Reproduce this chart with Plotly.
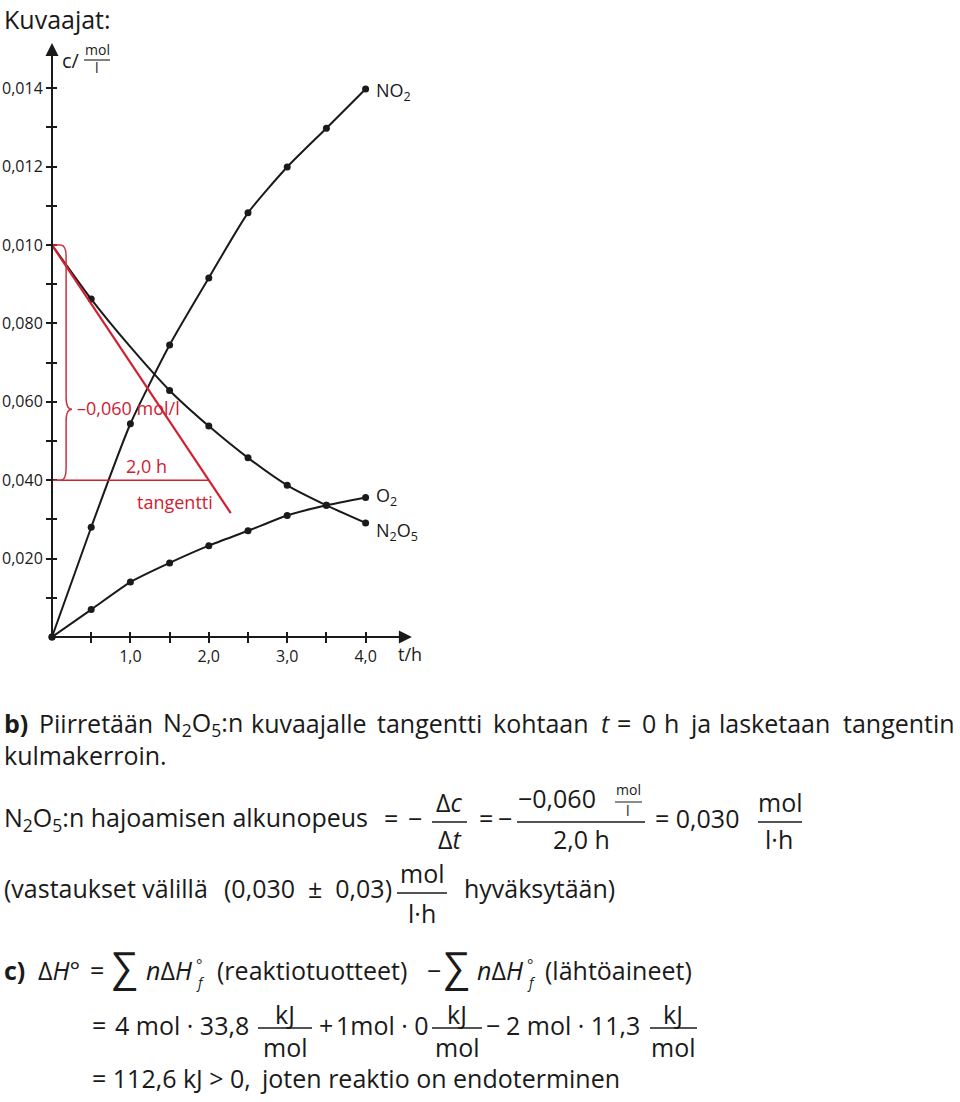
import plotly.graph_objects as go

# ---------------- data ----------------
T_H = [0.0, 0.5, 1.0, 1.5, 2.0, 2.5, 3.0, 3.5, 4.0]
C_NO2 = [0.0, 0.00280, 0.00544, 0.00745, 0.00916, 0.01082, 0.01199, 0.01298, 0.01398]
C_N2O5 = [0.0100, 0.00862, 0.00740, 0.00629, 0.00538, 0.00457, 0.00387, 0.00336, 0.00291]
C_O2 = [0.0, 0.00070, 0.00140, 0.00189, 0.00233, 0.00271, 0.00310, 0.00336, 0.00356]
N2O5_MEASURED = [False, True, False, True, True, True, True, True, True]

TANGENT_T = [0.0, 2.28]
TANGENT_C = [0.0100, 0.00316]
DELTA_T = [0.0, 2.0]
DELTA_LEVEL = [0.0040, 0.0040]
BRACE_TOP = 0.0100
BRACE_BOTTOM = 0.0040
BRACE_TIP = 0.00581

X_TICK_VALS = [0.5, 1.0, 1.5, 2.0, 2.5, 3.0, 3.5, 4.0]
X_TICK_TEXT = ["", "1,0", "", "2,0", "", "3,0", "", "4,0"]
Y_TICK_VALS = [0.001, 0.002, 0.003, 0.004, 0.005, 0.006, 0.007,
               0.008, 0.009, 0.010, 0.011, 0.012, 0.013, 0.014]
Y_TICK_TEXT = ["", "0,020", "", "0,040", "", "0,060", "", "0,080",
               "", "0,010", "", "0,012", "", "0,014"]
X_ARROW_END = 4.59
Y_ARROW_END = 0.01515

# ---------------- layout geometry ----------------
W, H = 960, 1102
ML, MT, MB = 52, 30, 465
PW = 392
MR = W - ML - PW
PH = H - MT - MB
PX_PER_HOUR = 78.4
PX_PER_002 = 78.4
X_MAX = PW / PX_PER_HOUR
Y_MAX = PH / PX_PER_002 * 0.002

FONT = "Open Sans, DejaVu Sans, sans-serif"
RED = "#cf2130"
BRACE_RED = "#c9343f"
INK = "#1a1a1a"
FS = 25  # body text size
NB = "\u00a0"


def pxx(x):
    return (x - ML) / PW


def pxy(y):
    return (H - MB - y) / PH


annotations = []
shapes = []


def txtc(xp, yc, s, size=FS, anchor="left", color=INK, family=FONT, yanchor="middle"):
    annotations.append(dict(
        xref="paper", yref="paper", x=pxx(xp), y=pxy(yc),
        xanchor=anchor, yanchor=yanchor, text=s, showarrow=False,
        borderpad=0, font=dict(family=family, size=size, color=color)))


def txt(xp, base, s, size=FS, anchor="left", color=INK, family=FONT):
    txtc(xp, base - 0.388 * size, s, size, anchor, color, family)


def bar(x0, x1, y, w=1.4, color=INK):
    shapes.append(dict(type="line", xref="paper", yref="paper",
                       x0=pxx(x0), x1=pxx(x1), y0=pxy(y), y1=pxy(y),
                       line=dict(color=color, width=w)))


fig = go.Figure()

line_style = dict(color=INK, width=2, shape="spline", smoothing=0.6)
mk = dict(size=7, color=INK)
fig.add_trace(go.Scatter(x=T_H, y=C_NO2, mode="lines+markers", line=line_style,
                         marker=mk, cliponaxis=False, showlegend=False, hoverinfo="skip"))
fig.add_trace(go.Scatter(x=T_H, y=C_O2, mode="lines+markers", line=line_style,
                         marker=mk, cliponaxis=False, showlegend=False, hoverinfo="skip"))
fig.add_trace(go.Scatter(x=T_H, y=C_N2O5, mode="lines", line=line_style,
                         cliponaxis=False, showlegend=False, hoverinfo="skip"))
fig.add_trace(go.Scatter(x=[t for t, m in zip(T_H, N2O5_MEASURED) if m],
                         y=[c for c, m in zip(C_N2O5, N2O5_MEASURED) if m],
                         mode="markers", marker=mk, cliponaxis=False,
                         showlegend=False, hoverinfo="skip"))
fig.add_trace(go.Scatter(x=TANGENT_T, y=TANGENT_C, mode="lines",
                         line=dict(color=RED, width=2.2), cliponaxis=False,
                         showlegend=False, hoverinfo="skip"))
fig.add_trace(go.Scatter(x=DELTA_T, y=DELTA_LEVEL, mode="lines",
                         line=dict(color=RED, width=1.5), cliponaxis=False,
                         showlegend=False, hoverinfo="skip"))
# invisible trace so the overlay axes (inner tick halves) are built
fig.add_trace(go.Scatter(x=[None], y=[None], xaxis="x2", yaxis="y2",
                         showlegend=False, hoverinfo="skip"))

# curly brace  (t in hours, c in mol/l)
bx, bx0, btip = 0.18, 0.11, 0.255
k = 0.0003
brace = (f"M 0,{BRACE_TOP} L {bx0},{BRACE_TOP} Q {bx},{BRACE_TOP} {bx},{BRACE_TOP - k} "
         f"L {bx},{BRACE_TIP + k} Q {bx},{BRACE_TIP} {btip},{BRACE_TIP} "
         f"Q {bx},{BRACE_TIP} {bx},{BRACE_TIP - k} "
         f"L {bx},{BRACE_BOTTOM + k} Q {bx},{BRACE_BOTTOM} {bx0},{BRACE_BOTTOM} L 0,{BRACE_BOTTOM}")
shapes.append(dict(type="path", xref="x", yref="y", path=brace,
                   line=dict(color=BRACE_RED, width=1.5)))

# axis arrows
for (xe, ye) in [(X_ARROW_END, 0), (0, Y_ARROW_END)]:
    annotations.append(dict(x=xe, y=ye, ax=0, ay=0, xref="x", yref="y", axref="x", ayref="y",
                            text="", showarrow=True, arrowhead=2, arrowsize=1.3,
                            arrowwidth=2, arrowcolor=INK, standoff=0, startstandoff=0))

# ---------------- chart texts ----------------
txtc(3, 0.5, "Kuvaajat:", size=25, yanchor="top")
txt(61, 68, "c/", size=20)
txt(97, 55, "mol", size=14, anchor="center")
bar(84, 110, 60, w=1.1)
txt(97, 73, "l", size=14, anchor="center")
txt(397, 661, "t/h", size=18)
txt(375, 98, "NO<sub>2</sub>", size=18)
txt(375, 503, "O<sub>2</sub>", size=18)
txt(375, 538, "N<sub>2</sub>O<sub>5</sub>", size=18)
txt(76, 415, "\u20130,060 mol/l", size=18, color=RED)
txt(146, 473, "2,0 h", size=18, color=RED, anchor="center")
txt(175, 509, "tangentti", size=18, color=RED, anchor="center")

# ---------------- part b ----------------
B1 = 733
for xp, word in [(3, "<b>b)</b>"), (38, "Piirretään"), (162, "N<sub>2</sub>O<sub>5</sub>:n"),
                 (250, "kuvaajalle"), (376, "tangentti"), (492, "kohtaan"),
                 (600, "<i>t</i>"), (616, "="), (641, "0"), (663, "h"), (688, "ja"),
                 (718, "lasketaan"), (842, "tangentin")]:
    txt(xp, B1, word)
txt(3, 765, "kulmakerroin.")

txt(3, 828, "N<sub>2</sub>O<sub>5</sub>:n hajoamisen alkunopeus")
txt(383, 828, "=")
txt(407, 828, "\u2212")
txt(449, 812, "\u0394<i>c</i>", anchor="center")
bar(432, 467, 822)
txt(449, 849, "\u0394<i>t</i>", anchor="center")
txt(478, 828, "=")
txt(497, 828, "\u2212")
txt(517, 808, "\u22120,060")
txt(628, 795, "mol", size=14, anchor="center")
bar(615, 642, 802, w=1.0)
txt(628, 816, "l", size=14, anchor="center")
bar(517, 645, 822)
txt(581, 849, "2,0 h", anchor="center")
txt(654, 828, "= 0,030")
txt(780, 812, "mol", anchor="center")
bar(758, 802, 822)
txt(779, 849, "l\u00b7h", anchor="center")

txt(3, 898, "(vastaukset välillä")
txt(393, 898, "(0,030" + NB * 2 + "\u00b1" + NB * 2 + "0,03)", anchor="right")
txt(422, 883, "mol", anchor="center")
bar(397, 447, 893)
txt(422, 923, "l\u00b7h", anchor="center")
txt(463, 898, "hyväksytään)")

# ---------------- part c ----------------
txt(3, 980, "<b>c)</b>")
txt(37, 980, "\u0394<i>H</i>\u00b0")
txt(89, 980, "=")
txtc(111, 966, "\u2211", size=40)
txt(145, 980, "<i>n</i>\u0394<i>H</i>")
txtc(195, 964, "\u00b0", size=15)
txt(195, 988, "<i>f</i>", size=14)
txt(216, 980, "(reaktiotuotteet)")
txt(426, 980, "\u2212")
txtc(443, 966, "\u2211", size=40)
txt(476, 980, "<i>n</i>\u0394<i>H</i>")
txtc(526, 964, "\u00b0", size=15)
txt(526, 988, "<i>f</i>", size=14)
txt(544, 980, "(lähtöaineet)")

L2 = 1035
txt(91, L2, "=")
txt(114, L2, "4 mol \u00b7 33,8")
txt(285, 1024, "kJ", anchor="center")
bar(258, 312, 1028)
txt(285, 1057, "mol", anchor="center")
txt(318, L2, "+")
txt(335, L2, "1mol \u00b7 0")
txt(457, 1024, "kJ", anchor="center")
bar(432, 482, 1028)
txt(457, 1057, "mol", anchor="center")
txt(485, L2, "\u2212")
txt(505, L2, "2 mol \u00b7 11,3")
txt(673, 1024, "kJ", anchor="center")
bar(650, 697, 1028)
txt(673, 1057, "mol", anchor="center")

txt(91, 1088, "= 112,6 kJ" + NB + ">" + NB + "0,")
txt(259, 1088, "joten reaktio on endoterminen")

axis_common = dict(showgrid=False, zeroline=False, showline=False, fixedrange=True,
                   automargin=False, ticklen=5, tickwidth=1.5, tickcolor=INK)
fig.update_layout(
    template="none",
    width=W, height=H,
    margin=dict(l=ML, r=MR, t=MT, b=MB, pad=0, autoexpand=False),
    paper_bgcolor="white", plot_bgcolor="white",
    font=dict(family=FONT, color=INK),
    xaxis=dict(range=[0, X_MAX], ticks="outside", tickmode="array",
               tickvals=X_TICK_VALS, ticktext=X_TICK_TEXT,
               tickfont=dict(size=16, family=FONT, color=INK), **axis_common),
    yaxis=dict(range=[0, Y_MAX], ticks="outside", tickmode="array",
               tickvals=Y_TICK_VALS, ticktext=Y_TICK_TEXT,
               tickfont=dict(size=16, family=FONT, color=INK), **axis_common),
    xaxis2=dict(range=[0, X_MAX], overlaying="x", anchor="y", side="bottom",
                ticks="inside", tickmode="array", tickvals=X_TICK_VALS,
                showticklabels=False, **axis_common),
    yaxis2=dict(range=[0, Y_MAX], overlaying="y", anchor="x", side="left",
                ticks="inside", tickmode="array", tickvals=Y_TICK_VALS,
                showticklabels=False, **axis_common),
    annotations=annotations,
    shapes=shapes,
    showlegend=False,
)

fig.write_html("out.html", config={"displayModeBar": False},
               post_script="document.body.style.margin='0px';")
